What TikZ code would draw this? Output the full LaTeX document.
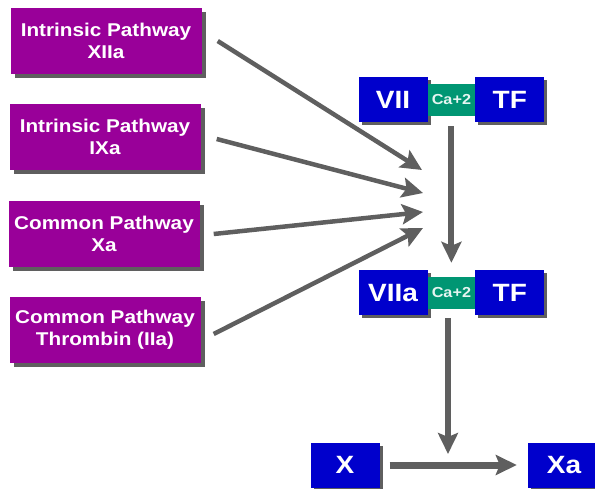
\documentclass[tikz,border=0pt]{standalone}
\usepackage{fontspec}
\setmainfont{Liberation Sans}[FakeStretch=1.12]
\usetikzlibrary{positioning,arrows.meta,shadows}

\definecolor{pwpurple}{RGB}{153,0,153}
\definecolor{fblue}{RGB}{0,0,204}
\definecolor{cagreen}{RGB}{0,150,115}
\definecolor{arrgray}{RGB}{95,95,95}

\begin{document}
\begin{tikzpicture}[x=1pt, y=-1pt,
    pw/.style = {fill=pwpurple, text=white, align=center, inner sep=0pt,
        minimum width=191pt, minimum height=66pt,
        font=\fontsize{18.5}{22}\selectfont\bfseries,
        drop shadow={shadow xshift=4pt, shadow yshift=-4pt, fill=arrgray, opacity=1}},
    fac/.style = {fill=fblue, text=white, inner sep=0pt,
        minimum width=69pt, minimum height=45pt,
        font=\fontsize{25}{25}\selectfont\bfseries,
        drop shadow={shadow xshift=3pt, shadow yshift=-3pt, fill=arrgray, opacity=1}},
    ca/.style = {fill=cagreen, text=white!90!cagreen, inner sep=0pt,
        minimum width=47pt, minimum height=32pt,
        font=\fontsize{14.5}{14.5}\selectfont\bfseries},
    arr/.style = {draw=arrgray, line width=4.5pt,
        -{Stealth[length=21pt, width=20pt, inset=4pt]}, color=arrgray}]
            \useasboundingbox (0,0) rectangle (595,489);
            \clip (0,0) rectangle (595,489);

            % pathways on the left
            \node[pw] (PW1) at (106,41) {Intrinsic Pathway\\XIIa};
            \node[pw] (PW2) at (105,137) {Intrinsic Pathway\\IXa};
            \node[pw] (PW3) at (104,234) {Common Pathway\\Xa};
            \node[pw] (PW4) at (105,330) {Common Pathway\\Thrombin (IIa)};

            % VII - TF complex
            \node[fac] (VII) at (393,100) {VII};
            \node[ca] (CA1) [right=0pt of VII] {Ca+2};
            \node[fac] (TF1) [right=0pt of CA1] {TF};

            \node[fac] (VIIA) at (393,293) {VIIa};
            \node[ca] (CA2) [right=0pt of VIIA] {Ca+2};
            \node[fac] (TF2) [right=0pt of CA2] {TF};

            \node[fac] (X) at (345,465) {X};
            \node[fac, minimum width=72pt] (XA) at (564,465) {Xa};

            \coordinate (T1) at (422,170);
            \coordinate (T2) at (423,193);
            \coordinate (T3) at (423,212);
            \coordinate (T4) at (423,228);
            \coordinate (JOIN) at (448,454);

            \draw[arr] ([xshift=16pt]PW1.east) -- (T1);
            \draw[arr] ([xshift=16pt, yshift=-2pt]PW2.east) -- (T2);
            \draw[arr] ([xshift=14pt]PW3.east) -- (T3);
            \draw[arr] ([xshift=13pt, yshift=-4pt]PW4.east) -- (T4);

            \draw[arr, line width=6pt, shorten <=10pt, shorten >=14pt] (CA1) -- (CA2);
            \draw[arr, line width=6.5pt, shorten <=9pt] (CA2.south -| JOIN) -- (JOIN);
            \draw[arr, line width=7pt, shorten <=10pt, shorten >=11pt] (X) -- (XA);
        \end{tikzpicture}
\end{document}
